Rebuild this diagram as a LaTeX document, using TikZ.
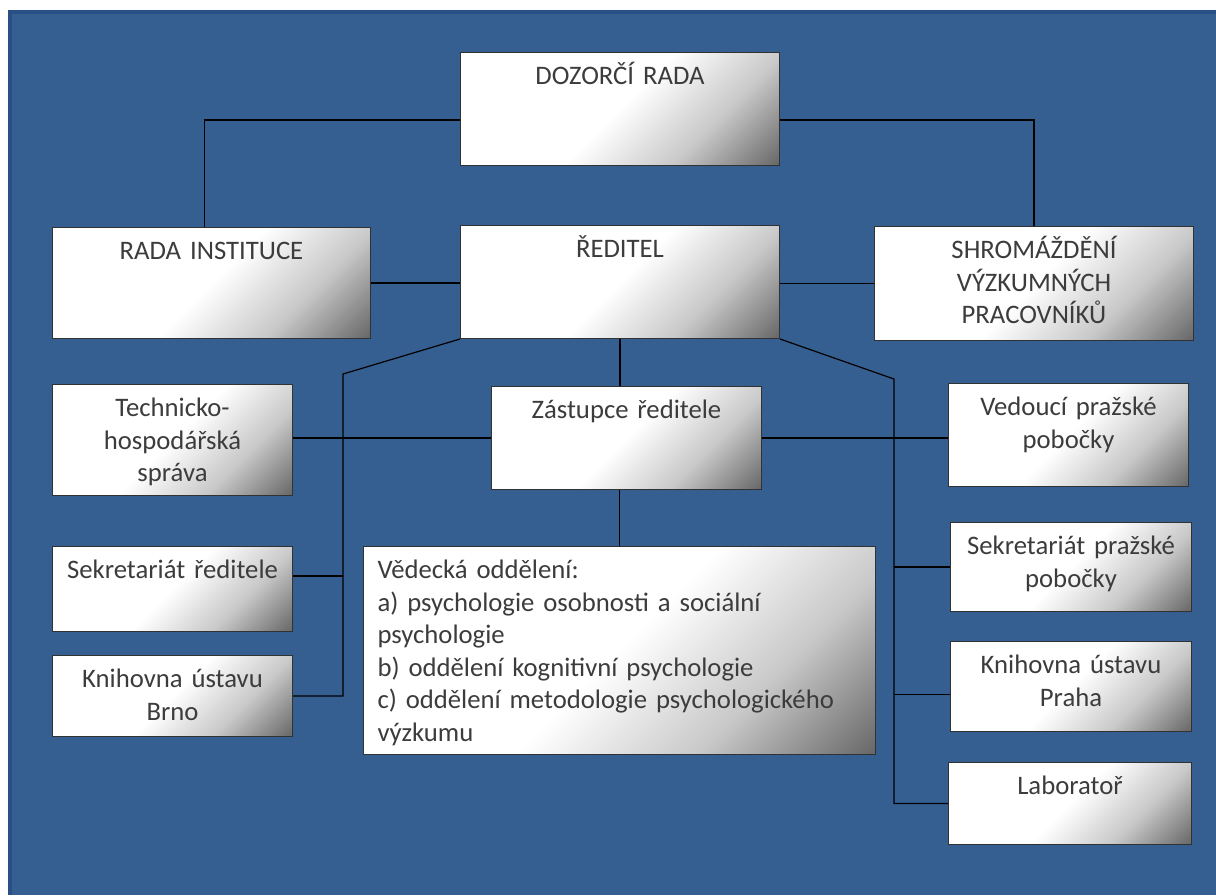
\documentclass[tikz,border=0pt]{standalone}
\usepackage{fontspec}
\setmainfont{Carlito}
\definecolor{pageblue}{RGB}{54,95,145}
\definecolor{edgeblue}{RGB}{40,80,132}
\definecolor{boxline}{RGB}{50,50,50}
\definecolor{boxtext}{RGB}{60,60,60}
\definecolor{shadedark}{RGB}{105,105,105}
\definecolor{shademid}{RGB}{200,200,200}
\usetikzlibrary{calc}
\pgfdeclareverticalshading{boxshade}{100bp}{color(0bp)=(shadedark); color(15bp)=(shadedark); color(32bp)=(shademid); color(50bp)=(white); color(100bp)=(white)}

\begin{document}
\begin{tikzpicture}[x=1pt, y=-1pt,
  orgbox/.style={draw=boxline, line width=1pt, shading=boxshade, shading angle=45,
    anchor=north west, inner xsep=6pt, inner ysep=0pt, text height=32pt,
    align=center, text=boxtext, font=\fontsize{26.7}{32.6}\selectfont},
  conn/.style={draw=black, line width=1.2pt},
]
  \useasboundingbox (0,0) rectangle (1216,895);
  % page
  \fill[white] (0,0) rectangle (1216,895);
  \fill[edgeblue] (8,10) rectangle (1216,895);
  \fill[pageblue] (12,14) rectangle (1216,895);

  % boxes
  \node[orgbox, text width=307pt, text depth=81pt] (dozor) at (460,52) {DOZORČÍ RADA};
  \node[orgbox, text width=306pt, text depth=79pt] (rada) at (52,227) {RADA INSTITUCE};
  \node[orgbox, text width=307pt, text depth=81pt] (reditel) at (460,225) {ŘEDITEL};
  \node[orgbox, text width=307pt, text depth=82pt] (shrom) at (874,226) {SHROMÁŽDĚNÍ\\VÝZKUMNÝCH\\PRACOVNÍKŮ};
  \node[orgbox, text width=228pt, text depth=79pt] (tech) at (52,384) {Technicko-\\hospodářská\\správa};
  \node[orgbox, text width=228pt, text depth=53pt] (sekr) at (52,546) {Sekretariát ředitele};
  \node[orgbox, text width=228pt, text depth=49pt] (knihb) at (52,655) {Knihovna ústavu\\Brno};
  \node[orgbox, text width=258pt, text depth=71pt] (zast) at (491,386) {Zástupce ředitele};
  \node[orgbox, align=left, inner xsep=14pt, text width=484pt, text depth=176pt] (ved) at (363,546) {Vědecká oddělení:\\a) psychologie osobnosti a sociální\\psychologie\\b) oddělení kognitivní psychologie\\c) oddělení metodologie psychologického\\výzkumu};
  \node[orgbox, text width=228pt, text depth=71pt] (vedp) at (948,383) {Vedoucí pražské\\pobočky};
  \node[orgbox, text width=229pt, text depth=57pt] (sekrp) at (950,522) {Sekretariát pražské\\pobočky};
  \node[orgbox, text width=229pt, text depth=58pt] (knihp) at (950,641) {Knihovna ústavu\\Praha};
  \node[orgbox, text width=231pt, text depth=50pt] (lab) at (948,762) {Laboratoř};

  % connectors
  \coordinate (lbus) at (343,374);
  \coordinate (rbus) at (894,379);
  \draw[conn] ([yshift=-11pt]dozor.west) -| ([xshift=-7pt]rada.north);
  \draw[conn] ([yshift=-11pt]dozor.east) -| (shrom.north);
  \draw[conn] (rada.east) -- (rada.east -| reditel.west);
  \draw[conn] (shrom.west) -- (shrom.west -| reditel.east);
  \draw[conn] (reditel.south) -- (reditel.south |- zast.north);
  \draw[conn] (ved.north |- zast.south) -- (ved.north);
  \draw[conn] (tech.east |- zast.west) -- (zast.west);
  \draw[conn] (zast.east) -- (zast.east -| vedp.west);
  \draw[conn] (reditel.south west) -- (lbus) |- (knihb.east);
  \draw[conn] ([yshift=13pt]sekr.east) -- ([yshift=13pt]sekr.east -| lbus);
  \draw[conn] (reditel.south east) -- (rbus) |- (lab.west);
  \draw[conn] (sekrp.west) -- (sekrp.west -| rbus);
  \draw[conn] ([yshift=-8pt]knihp.west) -- ([yshift=-8pt]knihp.west -| rbus);
\end{tikzpicture}
\end{document}
